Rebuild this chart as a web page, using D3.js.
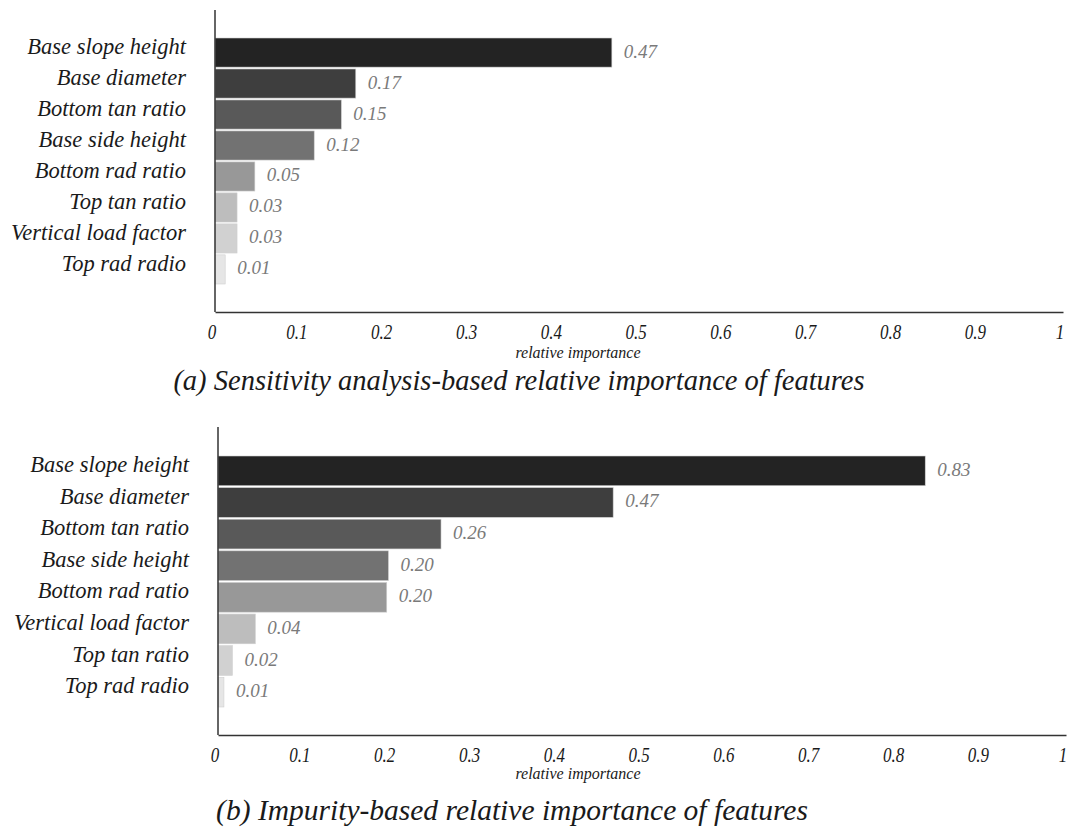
<!DOCTYPE html>
<html lang="en">
<head>
<meta charset="utf-8">
<title>Relative importance of features</title>
<script src="https://d3js.org/d3.v7.min.js"></script>
<style type="text/css">
    body { margin: 0; background: #fff; }
</style>
</head>
<body>
<script type="text/javascript">

// (a) sensitivity analysis
var catsA = ["Base slope height", "Base diameter", "Bottom tan ratio", "Base side height",
             "Bottom rad ratio", "Top tan ratio", "Vertical load factor", "Top rad radio"];
var valsA = [0.468, 0.166, 0.149, 0.117, 0.047, 0.026, 0.026, 0.012];

// (b) impurity based
var catsB = ["Base slope height", "Base diameter", "Bottom tan ratio", "Base side height",
             "Bottom rad ratio", "Vertical load factor", "Top tan ratio", "Top rad radio"];
var valsB = [0.834, 0.466, 0.263, 0.201, 0.199, 0.044, 0.017, 0.007];

var xTicks = [0, 0.1, 0.2, 0.3, 0.4, 0.5, 0.6, 0.7, 0.8, 0.9, 1];
var shades = ["#232323", "#3e3e3e", "#595959", "#727272", "#989898", "#bdbdbd", "#d1d1d1", "#e6e6e6"];

var serif = "'Liberation Serif', 'Times New Roman', Times, serif";

var w = 1069;
var h = 833;

var svg = d3.select("body")
            .append("svg")
            .attr("width", w)
            .attr("height", h);

function panel(cats, vals, p) {
    var x = d3.scaleLinear()
        .domain([0, 1])
        .range([p.x0, p.x0 + 848]);

    var y = d3.scaleBand()
        .domain(cats)
        .range([p.barTop, p.barBottom])
        .paddingInner(0.06);

    var color = d3.scaleOrdinal()
        .domain(d3.range(cats.length))
        .range(shades);

    var g = svg.append("g");

    // bars
    g.selectAll("rect")
      .data(vals)
      .enter().append("rect")
        .attr("x", x(0))
        .attr("y", function(d, i) { return y(cats[i]); })
        .attr("width", function(d) { return x(d) - x(0); })
        .attr("height", y.bandwidth())
        .attr("fill", function(d, i) { return color(i); })
        .attr("stroke", "#cfcfcf")
        .attr("stroke-width", 0.6);

    // value labels
    g.selectAll("text.val")
      .data(vals)
      .enter().append("text")
        .attr("class", "val")
        .attr("x", function(d) { return x(d) + 12; })
        .attr("y", function(d, i) { return y(cats[i]) + y.bandwidth() / 2 + 5; })
        .attr("fill", "#7a7a7a")
        .style("font-family", serif)
        .style("font-style", "italic")
        .style("font-size", "19px")
        .text(function(d) { return d3.format(".2f")(d); });

    // category labels
    var ya = g.append("g")
        .attr("transform", "translate(" + (x(0) - 29) + ",0)")
        .call(d3.axisLeft(y).tickSize(0).tickPadding(0));
    ya.select(".domain").remove();
    ya.selectAll("text")
        .style("font-family", serif)
        .style("font-style", "italic")
        .style("font-size", "22.5px")
        .attr("fill", "#1a1a1a")
        .attr("dy", "0.05em");

    // y axis line
    g.append("line")
        .attr("x1", x(0)).attr("x2", x(0))
        .attr("y1", p.axisTop).attr("y2", p.axisY)
        .attr("stroke", "#333")
        .attr("stroke-width", 1.5);

    // x axis
    var xa = g.append("g")
        .attr("transform", "translate(0," + p.axisY + ")")
        .call(d3.axisBottom(x)
            .tickValues(xTicks)
            .tickSize(0)
            .tickSizeOuter(0)
            .tickPadding(13)
            .tickFormat(function(d) { return d == 0 || d == 1 ? d3.format("d")(d) : d3.format(".1f")(d); }));
    xa.select(".domain")
        .attr("stroke", "#333")
        .attr("stroke-width", 1.5);
    xa.selectAll("text")
        .style("font-family", serif)
        .style("font-style", "italic")
        .style("font-size", "20px")
        .attr("fill", "#1a1a1a")
        .attr("dx", -4)
        .attr("transform", "scale(0.85,1)");

    g.append("text")
        .attr("x", 578)
        .attr("y", p.axisY + p.titleGap)
        .attr("text-anchor", "middle")
        .style("font-family", serif)
        .style("font-style", "italic")
        .style("font-size", "16px")
        .attr("fill", "#1a1a1a")
        .text("relative importance");

    g.append("text")
        .attr("x", p.capX)
        .attr("y", p.capY)
        .attr("text-anchor", "middle")
        .style("font-family", serif)
        .style("font-style", "italic")
        .style("font-size", p.capSize)
        .attr("fill", "#1a1a1a")
        .text(p.caption);
}

panel(catsA, valsA, {
    x0: 215, axisTop: 10, axisY: 312, barTop: 38, barBottom: 284,
    titleGap: 46, capX: 519, capY: 390, capSize: "28.5px",
    caption: "(a) Sensitivity analysis-based relative importance of features"
});

panel(catsB, valsB, {
    x0: 218, axisTop: 427, axisY: 735, barTop: 456, barBottom: 707,
    titleGap: 44, capX: 512, capY: 820, capSize: "29.5px",
    caption: "(b) Impurity-based relative importance of features"
});

</script>
</body>
</html>
